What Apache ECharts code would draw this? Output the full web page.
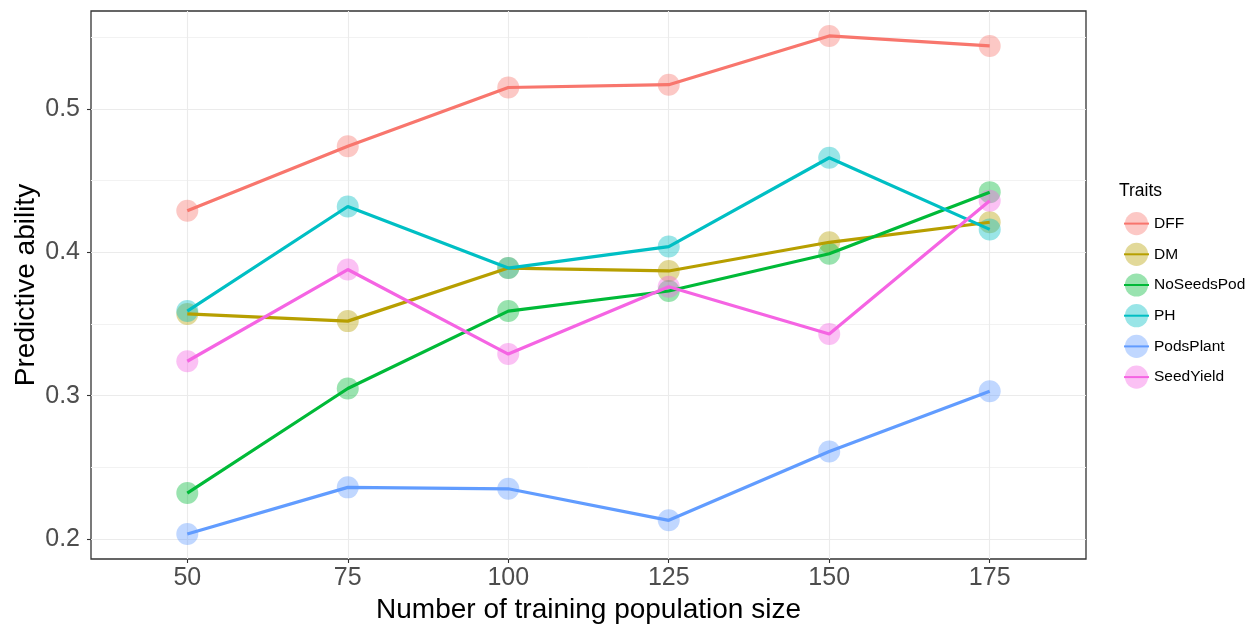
<!DOCTYPE html>
<html>
<head>
<meta charset="utf-8">
<script src="https://cdn.jsdelivr.net/npm/echarts@6/dist/echarts.min.js"></script>
<style>html,body{margin:0;padding:0;background:#fff}#chart{width:1250px;height:624px}</style>
</head>
<body>
<div id="chart"></div>
<script>
// Data
var sizes = [50, 75, 100, 125, 150, 175];
var traits = ['DFF', 'DM', 'NoSeedsPod', 'PH', 'PodsPlant', 'SeedYield'];
var DFF = [0.429, 0.474, 0.515, 0.517, 0.551, 0.544];
var DM = [0.357, 0.352, 0.389, 0.387, 0.407, 0.421];
var NoSeedsPod = [0.232, 0.305, 0.359, 0.373, 0.399, 0.442];
var PH = [0.359, 0.432, 0.389, 0.404, 0.466, 0.416];
var PodsPlant = [0.2035, 0.236, 0.235, 0.213, 0.261, 0.303];
var SeedYield = [0.324, 0.388, 0.329, 0.376, 0.343, 0.436];
var yMajorTicks = [0.2, 0.3, 0.4, 0.5];
var yMinorTicks = [0.25, 0.35, 0.45, 0.55];
var colors = ['#F8766D', '#B79F00', '#00BA38', '#00BFC4', '#619CFF', '#F564E3'];

var values = [DFF, DM, NoSeedsPod, PH, PodsPlant, SeedYield];
var FONT = '"Liberation Sans", Arial, Helvetica, sans-serif';

function pairs(v) { return sizes.map(function (s, i) { return [s, v[i]]; }); }

var series = [];
traits.forEach(function (t, k) {
  series.push({
    name: t, type: 'line', data: pairs(values[k]), z: 4,
    showSymbol: false, symbol: 'circle', symbolSize: 22,
    itemStyle: { color: colors[k], opacity: 0.4 },
    lineStyle: { color: colors[k], width: 3.2, opacity: 1 },
    silent: true, emphasis: { disabled: true }, animation: false
  });
});
traits.forEach(function (t, k) {
  series.push({
    name: t, type: 'scatter', data: pairs(values[k]), z: 3,
    symbol: 'circle', symbolSize: 22,
    itemStyle: { color: colors[k], opacity: 0.4 },
    silent: true, emphasis: { disabled: true }, animation: false
  });
});

var chart = echarts.init(document.getElementById('chart'), null, { renderer: 'canvas' });
chart.setOption({
  backgroundColor: '#fff',
  animation: false,
  textStyle: { fontFamily: FONT },
  title: {
    text: 'Traits', left: 1114, top: 177,
    textStyle: { fontFamily: FONT, fontSize: 17.5, fontWeight: 'normal', color: '#000' }
  },
  legend: {
    data: traits, orient: 'vertical', left: 1118, top: 207,
    itemWidth: 25, itemHeight: 29, itemGap: 7.5,
    textStyle: { fontFamily: FONT, fontSize: 15.5, color: '#000' },
    selectedMode: false
  },
  grid: {
    left: 91, right: 164, top: 11, bottom: 65,
    outerBoundsMode: 'none', containLabel: false,
    show: true, borderColor: '#333333', borderWidth: 1.3, backgroundColor: 'transparent'
  },
  xAxis: {
    type: 'value', min: 35, max: 190,
    name: 'Number of training population size', nameLocation: 'middle', nameGap: 37,
    nameTextStyle: { fontFamily: FONT, fontSize: 28, color: '#000' },
    axisLine: { show: false },
    axisTick: { show: true, length: 4, customValues: sizes, lineStyle: { color: '#333333', width: 1.1 } },
    axisLabel: { customValues: sizes, margin: 7, fontFamily: FONT, fontSize: 25, color: '#4D4D4D' },
    splitLine: { show: true, lineStyle: { color: '#EBEBEB', width: 1.1 } }
  },
  yAxis: [{
    type: 'value', min: 0.186, max: 0.5684,
    name: 'Predictive ability', nameLocation: 'middle', nameGap: 51, nameMoveOverlap: false,
    nameTextStyle: { fontFamily: FONT, fontSize: 28, color: '#000' },
    axisLine: { show: false },
    axisTick: { show: true, length: 4, customValues: yMajorTicks, lineStyle: { color: '#333333', width: 1.1 } },
    axisLabel: { customValues: yMajorTicks, margin: 11, fontFamily: FONT, fontSize: 25, color: '#4D4D4D' },
    splitLine: { show: true, lineStyle: { color: '#EBEBEB', width: 1.1 } }
  }, {
    type: 'value', min: 0.186, max: 0.5684, position: 'left',
    axisLine: { show: false },
    axisTick: { show: false, customValues: yMinorTicks },
    axisLabel: { show: false, customValues: yMinorTicks },
    splitLine: { show: true, lineStyle: { color: '#F2F2F2', width: 1 } }
  }],
  series: series
});
</script>
</body>
</html>
